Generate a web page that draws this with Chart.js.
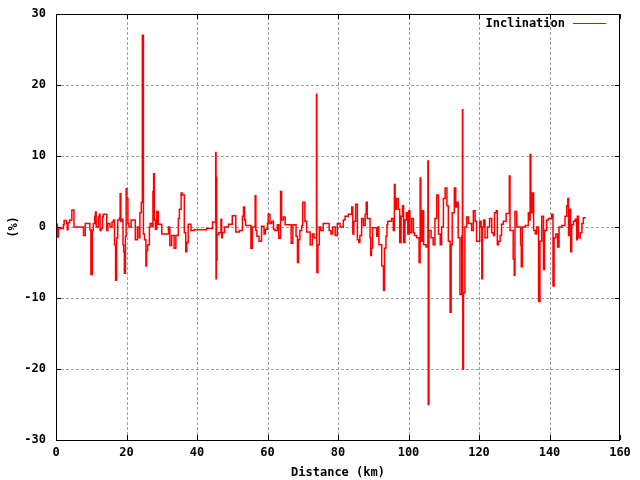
<!DOCTYPE html>
<html>
<head>
<meta charset="utf-8">
<script src="https://cdn.jsdelivr.net/npm/chart.js@4.4.0/dist/chart.umd.min.js"></script>
<style>
  body { margin: 0; background: #ffffff; }
</style>
</head>
<body>
<canvas id="myChart" width="640" height="480"></canvas>
<script>
// distance (km) where each step starts, and the inclination (%) held from there
const distances = [
  0, 0.4, 0.7, 2.1, 2.3, 3.0, 3.2, 3.4, 3.9, 4.5, 5.1, 7.8, 8.3, 9.6, 9.9, 10.3, 10.6, 11.0, 11.2, 11.4,
  12.0, 12.3, 12.5, 12.8, 13.2, 13.4, 14.4, 14.7, 15.3, 15.9, 16.3, 16.6, 16.9, 17.2, 17.5, 18.0, 18.2, 18.4, 18.8, 19.0,
  19.2, 19.4, 19.7, 19.9, 20.1, 20.4, 20.7, 21.3, 22.5, 23.1, 23.6, 23.8, 24.2, 24.5, 24.8, 25.1, 25.5, 25.7, 26.0, 26.5,
  26.7, 27.2, 27.5, 27.7, 27.9, 28.2, 28.6, 29.0, 30.0, 31.9, 32.3, 32.8, 33.5, 34.0, 34.7, 35.0, 35.5, 35.8, 36.4, 36.8,
  37.1, 37.5, 38.3, 39.2, 42.7, 44.4, 45.3, 45.4, 45.5, 45.6, 45.7, 46.2, 46.8, 47.0, 47.2, 47.8, 48.9, 50.0, 51.0, 52.0,
  52.9, 53.2, 53.5, 53.8, 55.3, 55.7, 56.5, 56.7, 57.0, 57.6, 57.9, 58.3, 59.0, 59.4, 60.0, 60.2, 60.7, 61.2, 61.7, 62.1,
  62.8, 63.2, 63.7, 64.0, 64.5, 65.0, 66.7, 67.2, 68.1, 68.5, 68.8, 69.2, 69.7, 70.0, 70.6, 71.1, 72.1, 72.7, 73.2, 73.9,
  74.0, 74.3, 74.7, 75.1, 75.8, 77.5, 78.0, 78.5, 79.2, 79.8, 80.6, 81.5, 82.0, 82.9, 83.9, 84.2, 84.5, 85.0, 85.5, 85.9,
  86.2, 86.7, 87.2, 87.7, 88.0, 88.3, 89.1, 89.3, 89.5, 89.8, 91.0, 91.3, 91.6, 92.4, 92.9, 93.2, 93.6, 93.9, 94.1, 95.2,
  95.7, 96.0, 96.2, 96.6, 97.1, 97.5, 97.9, 98.3, 98.6, 99.0, 99.4, 99.8, 100.1, 100.4, 100.9, 101.4, 101.7, 102.3, 103.0, 103.3,
  103.5, 103.9, 104.3, 105.0, 105.5, 105.6, 105.8, 106.4, 107.0, 107.5, 108.0, 108.5, 109.0, 109.4, 109.9, 110.4, 110.9, 111.3, 111.8, 112.1,
  112.4, 113.0, 113.4, 113.8, 114.1, 114.6, 115.1, 115.3, 115.4, 115.6, 116.0, 116.5, 117.0, 117.9, 118.4, 118.9, 119.3, 120.2, 120.6, 120.8,
  121.0, 121.3, 121.7, 122.4, 123.0, 123.6, 124.1, 124.4, 124.9, 125.2, 125.5, 126.0, 126.4, 126.9, 127.7, 128.6, 128.8, 129.7, 130.0, 130.2,
  130.7, 131.8, 132.0, 132.3, 133.1, 134.0, 134.3, 134.5, 134.7, 135.1, 135.5, 136.0, 136.4, 136.9, 137.3, 137.8, 138.3, 138.6, 139.2, 139.7,
  140.6, 141.0, 141.3, 141.8, 142.3, 142.7, 143.5, 144.4, 144.9, 145.2, 145.4, 145.8, 146.0, 146.3, 146.8, 147.3, 147.7, 147.9, 148.2, 148.7,
  149.2, 149.6, 150.3
];
const inclination = [
  0.4, -1.4, -0.2, 0.3, 0.9, 0.5, -0.4, 0.6, 1.0, 2.4, 0, -1.2, 0.5, -0.4, -6.7, -0.5, 0.5, 1.5, 2.1, 0,
  1.4, 1.8, -0.5, -0.2, 1.4, 1.8, -0.5, 0.5, 0, 0.7, 1.0, -2.5, -7.5, -1.5, 1.0, 1.3, 4.7, 0.8, 1.1, -2.5,
  -3.5, -6.5, -1.3, 5.4, 4.0, 0.5, 0, 1.0, -1.8, 0, -1.5, 2.0, 3.5, 27, -1.0, -1.8, -5.5, -3.3, -2.5, 0,
  0.5, 0.1, 5.0, 7.5, 1.0, -0.3, 2.2, 0.4, -1.0, 0, -2.6, -1.2, -3.0, -1.2, 1.2, 2.5, 4.8, 4.5, -0.8, -3.5,
  -2.2, 0.4, -0.5, -0.4, -0.2, 0.7, 10.5, -7.3, 7.0, -4.7, -1.1, -0.8, 1.1, -1.5, -0.8, 0, 0.4, 1.6, -0.7, -0.5,
  1.5, 2.8, 1.0, 0.2, -3.0, 0, 4.4, -0.5, -1.3, -2.0, -2.0, 0.1, -1.0, -0.3, 0.5, 1.8, 0.5, 0.8, -0.3, -0.5,
  0.3, -1.6, 5.0, 1.0, 1.4, 0.3, -2.3, 0.3, -1.3, -5.0, -1.8, -0.5, 0.2, 3.5, 0.8, -0.7, -2.5, -1.0, -1.5, 18.7,
  -6.4, -2.5, 0, -0.5, 0.5, -0.5, -1.0, 0, -1.2, 0.5, 0, 1.0, 1.5, 1.8, 2.8, -1.0, 0.8, 3.2, -1.8, -2.2,
  -1.2, 1.2, 0.2, 1.8, 3.5, 1.2, -1.5, -4.0, -3.0, -0.1, -1.3, 0, -2.5, -5.5, -8.9, -3.0, -1.3, 0.3, 0.8, 1.2,
  -0.5, 6.0, 2.5, 4.0, 2.5, -2.2, 1.5, 3.0, -2.2, 1.0, 2.0, -1.0, 2.3, -0.8, 1.2, -0.8, -1.2, -1.5, -5.0, 6.9,
  -2.0, 2.3, -2.5, -2.8, 9.3, -25, -0.5, -1.5, -2.5, 1.2, 4.5, -1.0, -2.5, 0, 4.0, 5.5, 3.0, -2.0, -12, -2.5,
  2.0, 5.5, 2.8, 3.5, -1.5, -9.5, -1.3, 16.5, -20, -9.3, 0, 1.4, 0.5, -0.5, 2.3, 0.8, -2.0, 0.8, 0, -7.3,
  0, 1.0, -1.5, 0, 1.2, -0.8, -1.2, 2.0, 2.3, -2.5, -2.0, -1.2, 0.4, 0.8, 1.9, 7.2, -0.5, -4.5, -6.8, 2.2,
  0, -2.5, -5.6, 0, 0.2, 2.0, 1.0, 10.2, 2.0, 4.8, -0.5, -1.0, 0, -10.5, -2.0, 1.5, -6.0, -0.5, 1.0, 1.2,
  1.8, -8.3, -1.5, -1.0, -2.8, 0, 0.2, 1.5, 3.0, 4.0, -1.2, 2.5, -3.5, 0.3, 0.8, 1.1, -1.8, 1.5, -1.5, -0.8,
  0.5, 1.3, 1.3
];
const xTicks = [0, 20, 40, 60, 80, 100, 120, 140, 160];
const yTicks = [-30, -20, -10, 0, 10, 20, 30];
const seriesLabel = "Inclination";
const xTitle = "Distance (km)";
const yTitle = "(%)";

const font = 'bold 12px "DejaVu Sans Mono"';

const points = distances.map((d, i) => ({ x: d, y: inclination[i] }));

// dotted grid under the data, like gnuplot "set grid"
const dottedGrid = {
  id: "dottedGrid",
  beforeDatasetsDraw(chart) {
    const ctx = chart.ctx;
    const a = chart.chartArea;
    const xs = chart.scales.x;
    const ys = chart.scales.y;
    ctx.save();
    ctx.strokeStyle = "#a0a0a0";
    ctx.lineWidth = 1;
    ctx.setLineDash([3, 2]);
    ctx.beginPath();
    xTicks.slice(1, -1).forEach((v) => {
      const px = Math.round(xs.getPixelForValue(v)) + 0.5;
      ctx.moveTo(px, a.bottom);
      ctx.lineTo(px, a.top);
    });
    yTicks.slice(1, -1).forEach((v) => {
      const py = Math.round(ys.getPixelForValue(v)) + 0.5;
      ctx.moveTo(a.left, py);
      ctx.lineTo(a.right, py);
    });
    ctx.stroke();
    ctx.restore();
  },
};

// border box, inward ticks on all sides, legend and axis titles
const frame = {
  id: "frame",
  afterDraw(chart) {
    const ctx = chart.ctx;
    const a = chart.chartArea;
    const xs = chart.scales.x;
    const ys = chart.scales.y;
    ctx.save();
    ctx.strokeStyle = "#000";
    ctx.lineWidth = 1;
    ctx.beginPath();
    xTicks.forEach((v) => {
      const px = Math.round(xs.getPixelForValue(v)) + 0.5;
      ctx.moveTo(px, a.bottom);
      ctx.lineTo(px, a.bottom - 5);
      ctx.moveTo(px, a.top);
      ctx.lineTo(px, a.top + 5);
    });
    yTicks.forEach((v) => {
      const py = Math.round(ys.getPixelForValue(v)) + 0.5;
      ctx.moveTo(a.left, py);
      ctx.lineTo(a.left + 5, py);
      ctx.moveTo(a.right, py);
      ctx.lineTo(a.right - 5, py);
    });
    ctx.stroke();
    ctx.strokeRect(a.left + 0.5, a.top + 0.5, a.right - a.left - 1, a.bottom - a.top);

    ctx.fillStyle = "#000";
    ctx.font = font;
    ctx.textBaseline = "middle";
    ctx.textAlign = "right";
    ctx.fillText(seriesLabel, 565, 24);
    ctx.strokeStyle = "#ff0000";
    ctx.beginPath();
    ctx.moveTo(573, 23.5);
    ctx.lineTo(606, 23.5);
    ctx.stroke();

    ctx.textAlign = "center";
    ctx.fillText(xTitle, (a.left + a.right) / 2, 473);
    ctx.translate(14, (a.top + a.bottom) / 2);
    ctx.rotate(-Math.PI / 2);
    ctx.fillText(yTitle, 0, 0);
    ctx.restore();
  },
};

const tickFont = { family: "DejaVu Sans Mono", size: 12, weight: "bold" };

const config = {
  type: "line",
  data: {
    datasets: [
      {
        label: seriesLabel,
        data: points,
        borderColor: "#ff0000",
        borderWidth: 1.5,
        stepped: true,
        pointRadius: 0,
        fill: false,
      },
    ],
  },
  options: {
    responsive: false,
    animation: false,
    layout: { padding: { left: 0, top: 14, right: 20, bottom: 0 } },
    plugins: {
      legend: { display: false },
      tooltip: { enabled: false },
    },
    scales: {
      x: {
        type: "linear",
        min: 0,
        max: 160,
        afterFit: (s) => { s.height = 40; s.paddingLeft = 0; s.paddingRight = 0; },
        afterBuildTicks: (s) => { s.ticks = xTicks.map((v) => ({ value: v })); },
        ticks: { color: "#000", font: tickFont, padding: 6, maxRotation: 0 },
        grid: { display: false, drawTicks: false },
        border: { display: false },
      },
      y: {
        type: "linear",
        min: -30,
        max: 30,
        afterFit: (s) => { s.width = 56; s.paddingTop = 0; s.paddingBottom = 0; },
        afterBuildTicks: (s) => { s.ticks = yTicks.map((v) => ({ value: v })); },
        ticks: { color: "#000", font: tickFont, padding: 10 },
        grid: { display: false, drawTicks: false },
        border: { display: false },
      },
    },
  },
  plugins: [dottedGrid, frame],
};

let context = document.getElementById("myChart").getContext("2d");
let chart = new Chart(context, config);
</script>
</body>
</html>
